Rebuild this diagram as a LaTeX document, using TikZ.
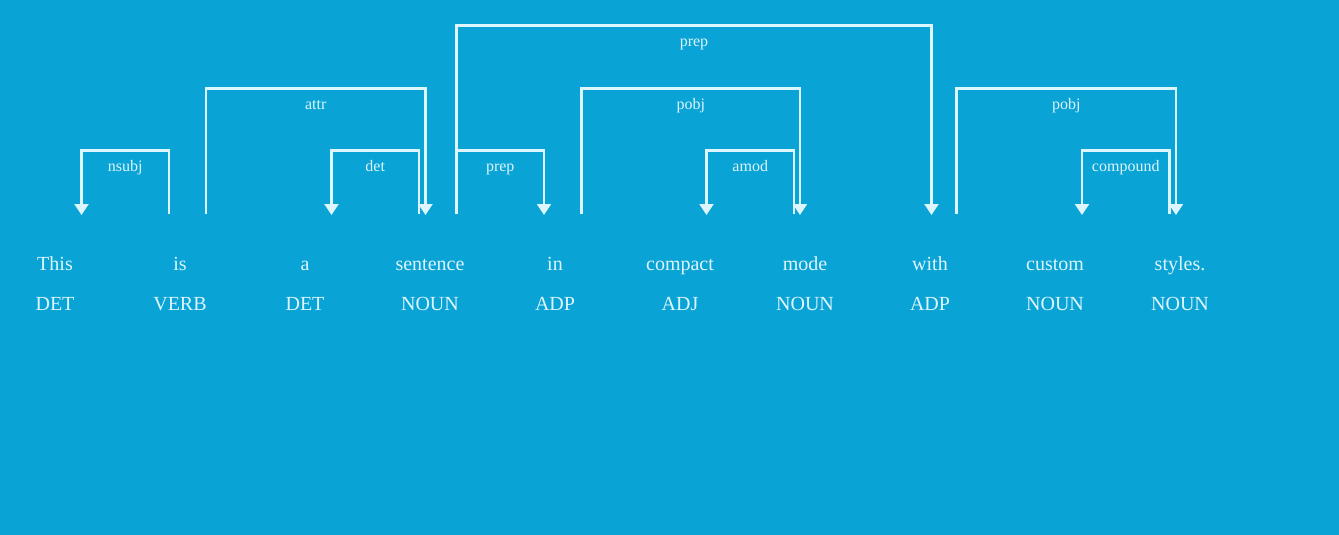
\documentclass[tikz,border=0pt]{standalone}
\usepackage{fontspec}
\setmainfont{Liberation Serif}
\usetikzlibrary{arrows.meta}
\definecolor{spacyblue}{HTML}{09A3D5}
\definecolor{arcwhite}{HTML}{DDF6FD}
\tikzstyle{word}=[anchor=base, inner sep=0pt, text=arcwhite, font=\fontsize{15}{18}\selectfont]
\tikzstyle{tag}=[word]
\tikzstyle{arc label}=[pos=0.25, anchor=base, inner sep=0pt, yshift=-15.75pt, text=arcwhite, font=\fontsize{12}{14}\selectfont]
\tikzstyle{dep arrow}=[-{Triangle[width=10.5pt,length=8.25pt]}, draw=arcwhite, line width=1.6pt]

\begin{document}
\begin{tikzpicture}[x=0.75pt, y=-0.75pt]
\fill[spacyblue] (0,0) rectangle (1339,535);

% words
\draw (55,270.5) node[word] (This) {This};
\draw (This.base) ++(125,0) node[word] (Is) {is};
\draw (Is.base) ++(125,0) node[word] (A) {a};
\draw (A.base) ++(125,0) node[word] (Sentence) {sentence};
\draw (Sentence.base) ++(125,0) node[word] (In) {in};
\draw (In.base) ++(125,0) node[word] (Compact) {compact};
\draw (Compact.base) ++(125,0) node[word] (Mode) {mode};
\draw (Mode.base) ++(125,0) node[word] (With) {with};
\draw (With.base) ++(125,0) node[word] (Custom) {custom};
\draw (Custom.base) ++(125,0) node[word] (Styles) {styles.};

% tags
\draw (This.base) ++(0,39.5) node[tag] (ThisTag) {DET};
\draw (Is.base) ++(0,39.5) node[tag] (IsTag) {VERB};
\draw (A.base) ++(0,39.5) node[tag] (ATag) {DET};
\draw (Sentence.base) ++(0,39.5) node[tag] (SentenceTag) {NOUN};
\draw (In.base) ++(0,39.5) node[tag] (InTag) {ADP};
\draw (Compact.base) ++(0,39.5) node[tag] (CompactTag) {ADJ};
\draw (Mode.base) ++(0,39.5) node[tag] (ModeTag) {NOUN};
\draw (With.base) ++(0,39.5) node[tag] (WithTag) {ADP};
\draw (Custom.base) ++(0,39.5) node[tag] (CustomTag) {NOUN};
\draw (Styles.base) ++(0,39.5) node[tag] (StylesTag) {NOUN};

% arc levels and feet
\coordinate (LevelOne) at (0,150.5);
\coordinate (LevelTwo) at (0,88.5);
\coordinate (LevelThree) at (0,25.5);

\coordinate (nsubjFrom) at (169,213.5);
\coordinate (nsubjTo) at (81.5,215);
\coordinate (attrFrom) at (206,213.5);
\coordinate (attrTo) at (425.5,215);
\coordinate (detFrom) at (419,213.5);
\coordinate (detTo) at (331.5,215);
\coordinate (prepFrom) at (456.5,213.5);
\coordinate (prepTo) at (931.5,215);
\coordinate (prepInTo) at (544,215);
\coordinate (pobjFrom) at (581.5,213.5);
\coordinate (pobjTo) at (800,215);
\coordinate (amodFrom) at (794,213.5);
\coordinate (amodTo) at (706.5,215);
\coordinate (pobjWithFrom) at (956.5,213.5);
\coordinate (pobjWithTo) at (1176,215);
\coordinate (compoundFrom) at (1169.5,213.5);
\coordinate (compoundTo) at (1082,215);

\draw[dep arrow] (nsubjFrom) -- (nsubjFrom |- LevelOne) -| node[arc label] {nsubj} (nsubjTo);
\draw[dep arrow] (attrFrom) -- (attrFrom |- LevelTwo) -| node[arc label] {attr} (attrTo);
\draw[dep arrow] (detFrom) -- (detFrom |- LevelOne) -| node[arc label] {det} (detTo);
\draw[dep arrow] (prepFrom) -- (prepFrom |- LevelThree) -| node[arc label] {prep} (prepTo);
\draw[dep arrow] (prepFrom) -- (prepFrom |- LevelOne) -| node[arc label] {prep} (prepInTo);
\draw[dep arrow] (pobjFrom) -- (pobjFrom |- LevelTwo) -| node[arc label] {pobj} (pobjTo);
\draw[dep arrow] (amodFrom) -- (amodFrom |- LevelOne) -| node[arc label] {amod} (amodTo);
\draw[dep arrow] (pobjWithFrom) -- (pobjWithFrom |- LevelTwo) -| node[arc label] {pobj} (pobjWithTo);
\draw[dep arrow] (compoundFrom) -- (compoundFrom |- LevelOne) -| node[arc label] {compound} (compoundTo);

\end{tikzpicture}
\end{document}
